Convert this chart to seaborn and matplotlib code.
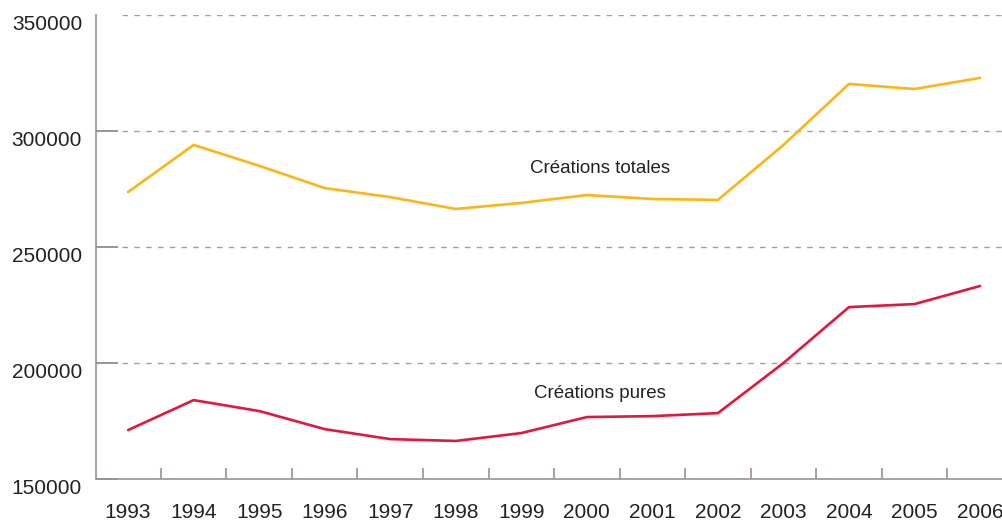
import pandas as pd
import matplotlib.pyplot as plt
import seaborn as sns
from matplotlib.ticker import FixedLocator

annees = ['1993', '1994', '1995', '1996', '1997', '1998', '1999',
          '2000', '2001', '2002', '2003', '2004', '2005', '2006']
creations_totales = [273700, 294000, 285000, 275400, 271500, 266400, 269000,
                     272400, 270700, 270300, 294000, 320300, 318100, 322900]
creations_pures = [171100, 184000, 179300, 171500, 167200, 166400, 169800,
                   176700, 177100, 178400, 200000, 224100, 225400, 233200]
series = ['Créations totales', 'Créations pures']
couleurs = ['#fdb515', '#e3173e']
y_ticks = [150000, 200000, 250000, 300000, 350000]

df = pd.DataFrame({
    'annee': annees * 2,
    'valeur': creations_totales + creations_pures,
    'serie': [series[0]] * len(annees) + [series[1]] * len(annees),
})

sns.set_style('white')
plt.rcParams['font.family'] = ['Liberation Sans', 'DejaVu Sans']

fig = plt.figure(figsize=(10.03, 5.2), dpi=100)
ax = fig.add_axes([96 / 1003, 41 / 520, 907 / 1003, 464 / 520])

sns.lineplot(data=df, x='annee', y='valeur', hue='serie', palette=couleurs,
             linewidth=1.9, legend=False, ax=ax)

# la dernière année touche presque le bord droit
ax.set_xlim(-0.49, len(annees) - 0.65)
ax.set_ylim(150000, 350000)
ax.set_xlabel('')
ax.set_ylabel('')

# grille en tirets, décalée du bord gauche
for y in y_ticks[1:]:
    ax.axhline(y, xmin=26 / 907, xmax=1, color='#a99d99', lw=1,
               linestyle=(0, (4, 4.5)), zorder=0)

axe_col = '#9d918d'
for cote in ['top', 'right']:
    ax.spines[cote].set_visible(False)
for cote in ['left', 'bottom']:
    ax.spines[cote].set_color(axe_col)
    ax.spines[cote].set_linewidth(1.2)

ax.set_yticks(y_ticks)
ax.set_yticklabels([str(v) for v in y_ticks], fontsize=15, color='#222222')
ax.tick_params(axis='y', left=True, direction='in', length=16, width=1.2,
               color='#8c807c', pad=10)
ax.yaxis.get_major_ticks()[-1].tick1line.set_visible(False)
for lab in ax.get_yticklabels():
    lab.set_verticalalignment('top')

ax.set_xticks(range(len(annees)))
ax.set_xticklabels(annees, fontsize=15, color='#222222')
ax.tick_params(axis='x', which='major', bottom=True, length=0, pad=17)
ax.xaxis.set_minor_locator(FixedLocator([i + 0.5 for i in range(len(annees) - 1)]))
ax.tick_params(axis='x', which='minor', bottom=True, direction='in', length=8,
               width=1.2, color=axe_col)

ax.text(7.2, 284000, series[0], fontsize=13.5, color='#222222', ha='center', va='center')
ax.text(7.2, 187000, series[1], fontsize=13.5, color='#222222', ha='center', va='center')

fig.savefig('out.png', dpi=100, facecolor='white')
